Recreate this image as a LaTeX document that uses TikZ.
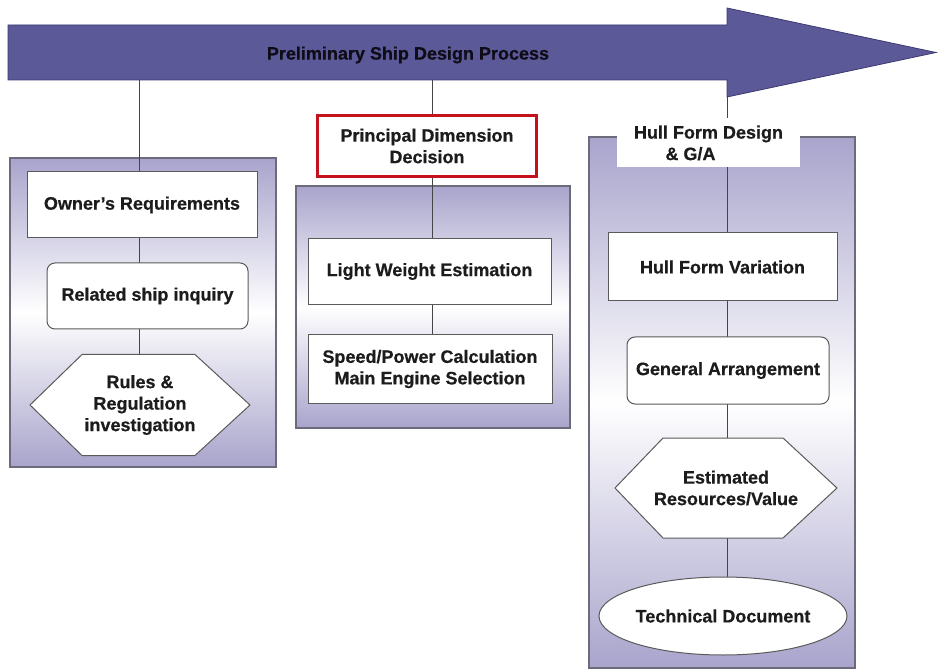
\documentclass[tikz,border=0pt]{standalone}
\usepackage{fontspec}
\setmainfont{Liberation Sans}[BoldFeatures={FakeBold=0.5}]
\usetikzlibrary{shapes.geometric}
\pgfdeclarelayer{panels}
\pgfdeclarelayer{links}
\pgfsetlayers{panels,links,main}
\definecolor{arrowfill}{HTML}{5C5999}
\definecolor{arrowedge}{HTML}{3C3A70}
\definecolor{lav}{HTML}{A8A4CC}
\definecolor{edgegray}{HTML}{6C6B7C}
\definecolor{boxgray}{HTML}{5A5A5A}
\definecolor{linkgray}{HTML}{454545}
\definecolor{ink}{HTML}{1C1C1C}
\definecolor{decred}{HTML}{C4121C}

\begin{document}
\begin{tikzpicture}[x=1pt,y=-1pt,
  every node/.style={font=\fontsize{18}{21.5}\selectfont\bfseries, text=ink,
    align=center, inner sep=0pt, outer sep=0pt},
  panel/.style={draw=edgegray, line width=1.1pt, top color=lav, bottom color=lav, middle color=white},
  stepbox/.style={draw=boxgray, line width=1pt, fill=white, minimum width=#1, minimum height=66},
  roundbox/.style={stepbox=#1, rounded corners=8pt},
  hexspace/.style={minimum width=#1, minimum height=101},
  hexline/.style={draw=boxgray, line width=1pt, fill=white},
  link/.style={draw=linkgray, line width=1pt}]

\useasboundingbox (0,0) rectangle (938,671);

% ---- process arrow ----
\fill[arrowfill, draw=arrowedge, line width=0.8pt]
  (8,25) -- (727,25) -- (727,8) -- (936,52.5) -- (727,97) -- (727,80) -- (8,80) -- cycle;
\node[text=black!85!arrowfill] (title) at (408,55) {Preliminary Ship Design Process};
\coordinate (t1) at (139,80);
\coordinate (t2) at (432,80);
\coordinate (t3) at (727,97);

% ---- stage panels ----
\begin{pgfonlayer}{panels}
  \shade[panel] (10,158) rectangle (276,467);
  \shade[panel] (296,186) rectangle (570,428);
  \shade[panel] (589,137) rectangle (855,668);
\end{pgfonlayer}

% ---- stage 1 ----
\node[stepbox=230] (owner) at (142,205) {Owner{\char"27}s Requirements};
\node[roundbox=201] (related) at (147.5,296) {Related ship inquiry};
\node[hexspace=220] (rules) at (140,405) {Rules \&\\Regulation\\investigation};

% ---- stage 2 ----
\node[draw=decred, line width=2.4pt, fill=white, minimum width=219, minimum height=61]
  (principal) at (427,146) {Principal Dimension\\Decision};
\node[stepbox=243] (light) at (429.5,271.5) {Light Weight Estimation};
\node[stepbox=244, minimum height=68] (speed) at (430,369) {Speed/Power Calculation\\Main Engine Selection};

% ---- stage 3 ----
\node[fill=white, minimum width=183, minimum height=49, align=left]
  (hull) at (708.5,143) {Hull Form Design\\\hspace*{1.75em}\& G/A};
\node[stepbox=229, minimum height=68] (variation) at (722.5,267) {Hull Form Variation};
\node[roundbox=202, minimum height=67] (arrangement) at (728,370.5) {General Arrangement};
\node[hexspace=222, minimum height=100] (resources) at (726,488) {Estimated\\Resources/Value};
\node[ellipse, draw=boxgray, line width=1pt, fill=white, minimum width=248, minimum height=78]
  (techdoc) at (723,616) {Technical Document};

% ---- connectors and hexagon outlines ----
\begin{pgfonlayer}{links}
  \draw[link] (t1) -- (t1 |- owner.north);
  \draw[link] (t1 |- owner.south) -- (t1 |- related.north);
  \draw[link] (t1 |- related.south) -- (t1 |- rules.north);

  \draw[link] (t2) -- (t2 |- principal.north);
  \draw[link] (t2 |- principal.south) -- (t2 |- light.north);
  \draw[link] (t2 |- light.south) -- (t2 |- speed.north);

  \draw[link] (t3) -- (t3 |- hull.north);
  \draw[link] (t3 |- hull.south) -- (t3 |- variation.north);
  \draw[link] (t3 |- variation.south) -- (t3 |- arrangement.north);
  \draw[link] (t3 |- arrangement.south) -- (t3 |- resources.north);
  \draw[link] (t3 |- resources.south) -- (t3 |- techdoc.north);

  \path[hexline] (rules.west) -- ([xshift=52pt]rules.north west) -- ([xshift=-55pt]rules.north east)
    -- (rules.east) -- ([xshift=-55pt]rules.south east) -- ([xshift=52pt]rules.south west) -- cycle;
  \path[hexline] (resources.west) -- ([xshift=48pt]resources.north west) -- ([xshift=-54pt]resources.north east)
    -- (resources.east) -- ([xshift=-54pt]resources.south east) -- ([xshift=48pt]resources.south west) -- cycle;
\end{pgfonlayer}
\end{tikzpicture}
\end{document}
